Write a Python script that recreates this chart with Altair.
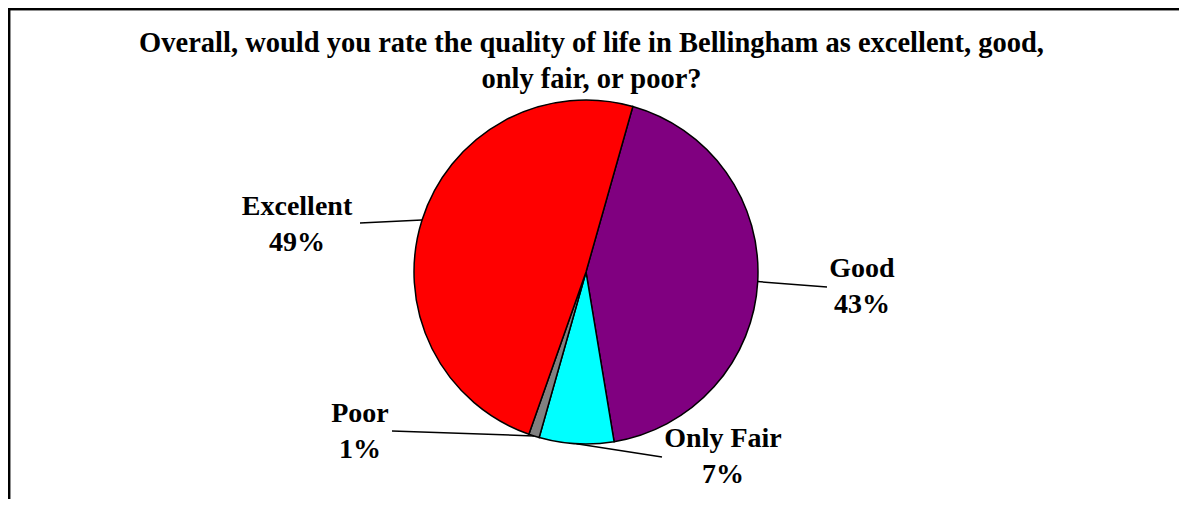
import math
import altair as alt
import pandas as pd

# ---- data ----
categories = ["Good", "Only Fair", "Poor", "Excellent"]
values = [43, 7, 1, 49]
pct_labels = ["43%", "7%", "1%", "49%"]
colors = ["#800080", "#00FFFF", "#808080", "#FF0000"]

title_lines = [
    "Overall, would you rate the quality of life in Bellingham as excellent, good,",
    "only fair, or poor?",
]

# ---- layout (chart pixel coordinates) ----
W, H = 1171, 491
CX, CY, R = 578, 264, 172
START_DEG = 15.8
LABEL_POS = {  # text centre x, first-line baseline y
    "Good": (854, 269),
    "Only Fair": (715, 439),
    "Poor": (352, 414),
    "Excellent": (289, 207),
}
LEADER_END = {
    "Good": (819, 279),
    "Only Fair": (654, 449),
    "Poor": (384, 423),
    "Excellent": (352, 215),
}
FONT = "Liberation Serif"

total = sum(values)
df = pd.DataFrame({"cat": categories, "value": values, "idx": range(len(values))})

# leader lines: from slice mid-angle on the rim to the label
rows = []
cum = 0
for c, v, p in zip(categories, values, pct_labels):
    mid = math.radians(START_DEG + 360 * (cum + v / 2) / total)
    cum += v
    ex, ey = CX + R * math.sin(mid), CY - R * math.cos(mid)
    lx, ly = LEADER_END[c]
    tx, ty = LABEL_POS[c]
    rows.append({"cat": c, "pct": p, "x1": ex, "y1": ey, "x2": lx, "y2": ly, "tx": tx, "ty": ty})
ann = pd.DataFrame(rows)

xs = alt.Scale(domain=[0, W], range=[0, W])
ys = alt.Scale(domain=[0, H], range=[0, H])

start = math.radians(START_DEG)
pie = alt.Chart(df).mark_arc(outerRadius=R, stroke="black", strokeWidth=1.5).encode(
    theta=alt.Theta("value:Q", stack=True, scale=alt.Scale(range=[start, start + 2 * math.pi])),
    color=alt.Color("cat:N", scale=alt.Scale(domain=categories, range=colors), legend=None),
    order=alt.Order("idx:Q"),
    x=alt.value(CX),
    y=alt.value(CY),
)

leaders = alt.Chart(ann).mark_rule(color="black", strokeWidth=1.5).encode(
    x=alt.X("x1:Q", scale=xs, axis=None),
    y=alt.Y("y1:Q", scale=ys, axis=None),
    x2="x2:Q",
    y2="y2:Q",
)

name_text = alt.Chart(ann).mark_text(
    font=FONT, fontSize=28, fontWeight="bold", align="center", baseline="alphabetic", color="black"
).encode(x=alt.X("tx:Q", scale=xs, axis=None), y=alt.Y("ty:Q", scale=ys, axis=None), text="cat:N")

pct_text = alt.Chart(ann).mark_text(
    font=FONT, fontSize=28, fontWeight="bold", align="center", baseline="alphabetic", color="black", dy=36
).encode(x=alt.X("tx:Q", scale=xs, axis=None), y=alt.Y("ty:Q", scale=ys, axis=None), text="pct:N")

tdf = pd.DataFrame({"t": title_lines, "line": [0, 1]})
title = alt.Chart(tdf).transform_calculate(ty="44 + datum.line * 36").mark_text(
    font=FONT, fontSize=28.5, fontWeight="bold", align="center", baseline="alphabetic", color="black"
).encode(x=alt.value(583.5), y=alt.Y("ty:Q", scale=ys, axis=None), text="t:N")

border_top = alt.Chart(tdf).mark_rule(color="black", strokeWidth=2.5, strokeCap="butt").encode(
    x=alt.value(0), x2=alt.value(W + 30), y=alt.value(1)
)
border_left = alt.Chart(tdf).mark_rule(color="black", strokeWidth=2.5, strokeCap="butt").encode(
    x=alt.value(1), y=alt.value(0), y2=alt.value(H + 30)
)

chart = alt.layer(pie, leaders, name_text, pct_text, title, border_top, border_left).properties(
    width=W, height=H, padding=0, autosize=alt.AutoSizeParams(type="none"), background="white"
).configure_view(stroke=None)

chart.save("out.html", embed_options={"renderer": "svg", "actions": False})
